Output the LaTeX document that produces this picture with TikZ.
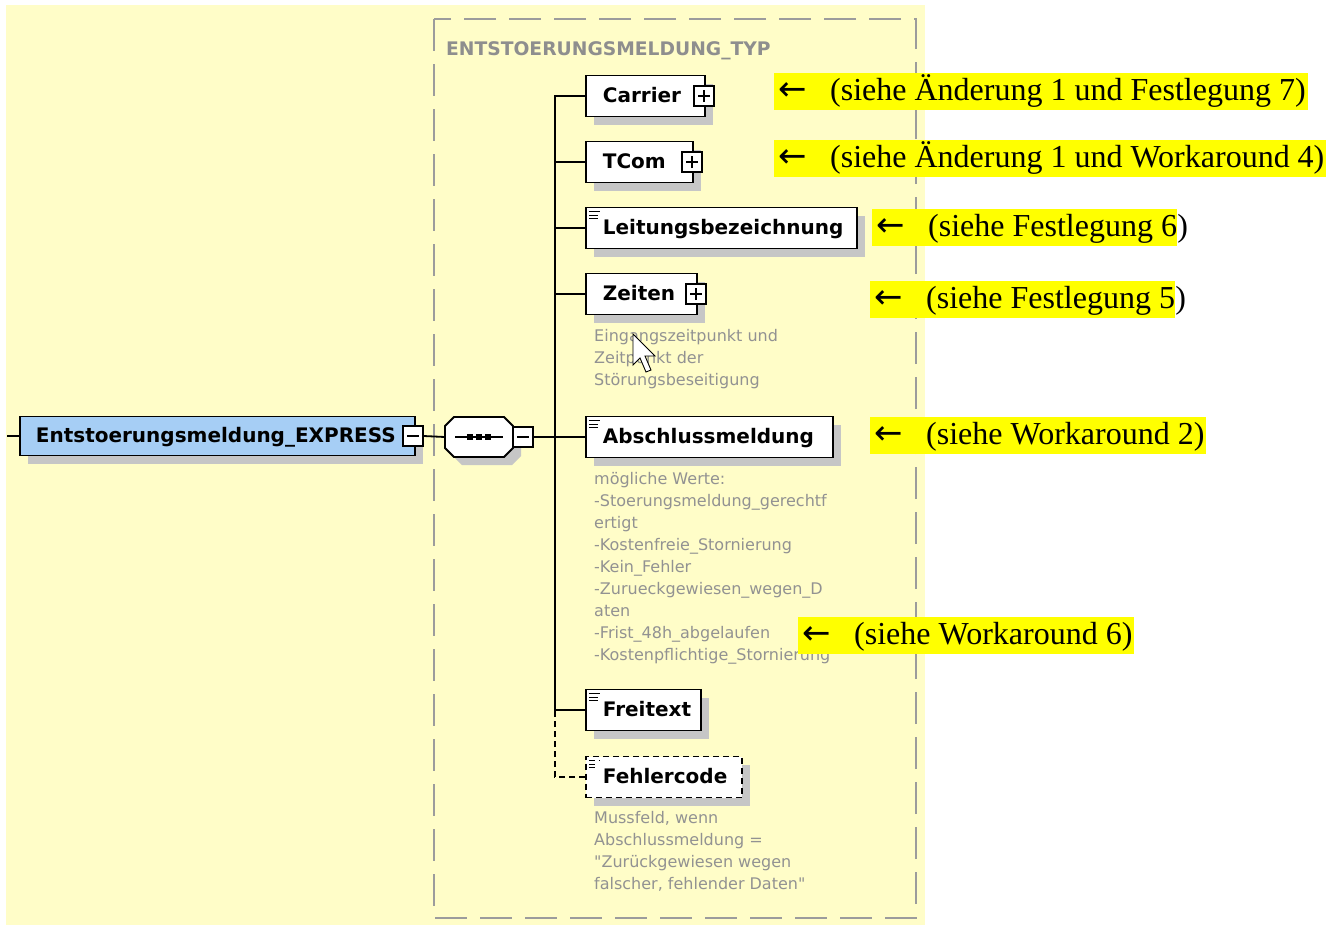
\documentclass[tikz,border=0pt]{standalone}
\usepackage{fontspec}
\setmainfont{Liberation Serif}
\newfontfamily\xsfont{DejaVu Sans}
\usetikzlibrary{shadows}

\definecolor{paper}{HTML}{FFFDC8}
\definecolor{hilite}{HTML}{FFFF00}
\definecolor{elemblue}{HTML}{A6CEF5}
\definecolor{shadowgray}{HTML}{C6C6C6}
\definecolor{framegray}{HTML}{9C9C9C}
\definecolor{titlegray}{HTML}{8E8E8E}
\definecolor{notegray}{HTML}{929292}

% left padding of element labels and the arrow lead of the remarks
\newcommand\elempad{\hspace*{17pt}}
\newcommand\arrowlead{\makebox[56pt][l]{\hspace*{4pt}{\xsfont\fontsize{34}{34}\selectfont ←}}}

\begin{document}
\begin{tikzpicture}[x=1pt,y=-1pt,
  elem/.style={draw=black, line width=1.8pt, fill=white, anchor=west,
    text width=#1, inner xsep=0pt, inner ysep=0pt, minimum height=41pt,
    align=left, text height=15pt, text depth=3pt,
    font=\xsfont\bfseries\fontsize{20}{24}\selectfont,
    drop shadow={shadow xshift=8pt, shadow yshift=-8pt, fill=shadowgray, opacity=1}},
  leaf/.style={path picture={
    \draw[line width=1pt]
      ([xshift=3pt,yshift=-4pt]path picture bounding box.north west) coordinate (lf)
      -- ++(11,0) (lf) ++(0,3.5) -- ++(9,0) (lf) ++(0,7) -- ++(9,0);}},
  togglebox/.style={draw=black, line width=1.4pt, fill=white,
    minimum size=20pt, inner sep=0pt},
  minusbox/.style={togglebox, path picture={
    \draw[line width=1.4pt]
      ([xshift=-6pt]path picture bounding box.center) --
      ([xshift=6pt]path picture bounding box.center);}},
  plusbox/.style={togglebox, path picture={
    \draw[line width=1.4pt]
      ([xshift=-6pt]path picture bounding box.center) --
      ([xshift=6pt]path picture bounding box.center)
      ([yshift=-6pt]path picture bounding box.center) --
      ([yshift=6pt]path picture bounding box.center);}},
  conn/.style={draw=black, line width=1.8pt},
  optconn/.style={conn, dash pattern=on 6pt off 4pt},
  note/.style={anchor=north west, inner sep=0pt, align=left, text=notegray,
    font=\xsfont\fontsize{16}{22}\selectfont},
  remark/.style={fill=hilite, anchor=west, inner xsep=0pt, inner ysep=0pt,
    minimum height=37pt, text height=27pt, text depth=9pt,
    font=\fontsize{32}{38}\selectfont},
  closer/.style={anchor=base west, inner sep=0pt, font=\fontsize{32}{38}\selectfont}
]
\useasboundingbox (0,0) rectangle (1329,926);
\fill[white] (0,0) rectangle (1329,926);
\fill[paper] (6,5) rectangle (925,925);

% complex type frame
\draw[framegray, line width=2pt, dash pattern=on 32pt off 13pt] (434,19) rectangle (916,918);
\node[anchor=base west, inner sep=0pt, text=titlegray,
  font=\xsfont\bfseries\fontsize{18.7}{22}\selectfont] (typetitle) at (446,55)
  {ENTSTOERUNGSMELDUNG\_TYP};

% root element
\node[elem=395pt, fill=elemblue, minimum height=39pt] (root) at (19,436)
  {\hspace*{16pt}Entstoerungsmeldung\_EXPRESS};
\node[minusbox] (rootminus) at (413,436) {};

% sequence compositor
\node[minimum width=68pt, minimum height=40pt, inner sep=0pt] (seq) at (479,437) {};
\begin{scope}[shift={(8,8)}]
  \fill[shadowgray] (454,417) -- (504,417) -- (513,426) -- (513,448) -- (504,457)
    -- (454,457) -- (445,448) -- (445,426) -- cycle;
\end{scope}
\filldraw[fill=white, draw=black, line width=1.8pt]
  (454,417) -- (504,417) -- (513,426) -- (513,448) -- (504,457)
  -- (454,457) -- (445,448) -- (445,426) -- cycle;
\draw[line width=1.5pt] (455,437) -- (503,437);
\foreach \cx in {470,479,488} \fill (\cx-3,434) rectangle (\cx+3,440);
\node[minusbox] (seqminus) at (523,437) {};

% child elements
\node[elem=119pt] (carrier) at (585,96) {\elempad Carrier};
\node[plusbox] (carrierplus) at (704,96) {};
\node[elem=107pt] (tcom) at (585,162) {\elempad TCom};
\node[plusbox] (tcomplus) at (692,162) {};
\node[elem=271pt, leaf] (leitung) at (585,228) {\elempad Leitungsbezeichnung};
\node[elem=111pt] (zeiten) at (585,294) {\elempad Zeiten};
\node[plusbox] (zeitenplus) at (696,294) {};
\node[elem=247pt, leaf] (abschluss) at (585,437) {\elempad Abschlussmeldung};
\node[elem=115pt, leaf] (freitext) at (585,710) {\elempad Freitext};
\node[elem=156pt, leaf, dash pattern=on 6pt off 4pt] (fehler) at (585,777) {\elempad Fehlercode};

% annotations
\node[note] (zeitennote) at (594,329.5)
  {Eingangszeitpunkt und\\Zeitpunkt der\\Störungsbeseitigung};
\node[note] (abschlussnote) at (594,472.5)
  {mögliche Werte:\\-Stoerungsmeldung\_gerechtf\\ertigt\\-Kostenfreie\_Stornierung\\
   -Kein\_Fehler\\-Zurueckgewiesen\_wegen\_D\\aten\\-Frist\_48h\_abgelaufen\\
   -Kostenpflichtige\_Stornierung};
\node[note] (fehlernote) at (594,811.5)
  {Mussfeld, wenn\\Abschlussmeldung =\\"Zurückgewiesen wegen\\falscher, fehlender Daten"};

% connectors
\coordinate (lead) at (7,436);
\coordinate (spine) at (555,437);
\coordinate (spinefoot) at (555,710);
\draw[conn] (lead) -- (root.west);
\draw[conn] (rootminus.east) -- (seq.west);
\draw[conn] (seqminus.east) -- (spine);
\draw[conn] (carrier.west) -| (spine);
\draw[conn] (tcom.west) -| (spine);
\draw[conn] (leitung.west) -| (spine);
\draw[conn] (zeiten.west) -| (spine);
\draw[conn] (abschluss.west) -- (spine);
\draw[conn] (freitext.west) -| (spine);
\draw[optconn] (fehler.west) -| (spinefoot);

% mouse pointer
\filldraw[fill=white, draw=black, line width=0.9pt, line join=miter]
  (633,334) -- (633,365) -- (640,358) -- (646,372) -- (651,370) -- (645,356)
  -- (655,356) -- cycle;

% highlighted remarks
\node[remark] (r1) at (774,91) {\arrowlead(siehe Änderung 1 und Festlegung 7)\hspace*{2pt}};
\node[remark] (r2) at (774,158) {\arrowlead(siehe Änderung 1 und Workaround 4)\hspace*{2pt}};
\node[remark] (r3) at (872,227.5) {\arrowlead(siehe Festlegung 6};
\node[closer] (r3close) at (r3.base east) {)};
\node[remark] (r4) at (870,299.5) {\arrowlead(siehe Festlegung 5};
\node[closer] (r4close) at (r4.base east) {)};
\node[remark] (r5) at (870,435) {\arrowlead(siehe Workaround 2)\hspace*{2pt}};
\node[remark] (r6) at (798,635) {\arrowlead(siehe Workaround 6)\hspace*{2pt}};
\end{tikzpicture}
\end{document}
